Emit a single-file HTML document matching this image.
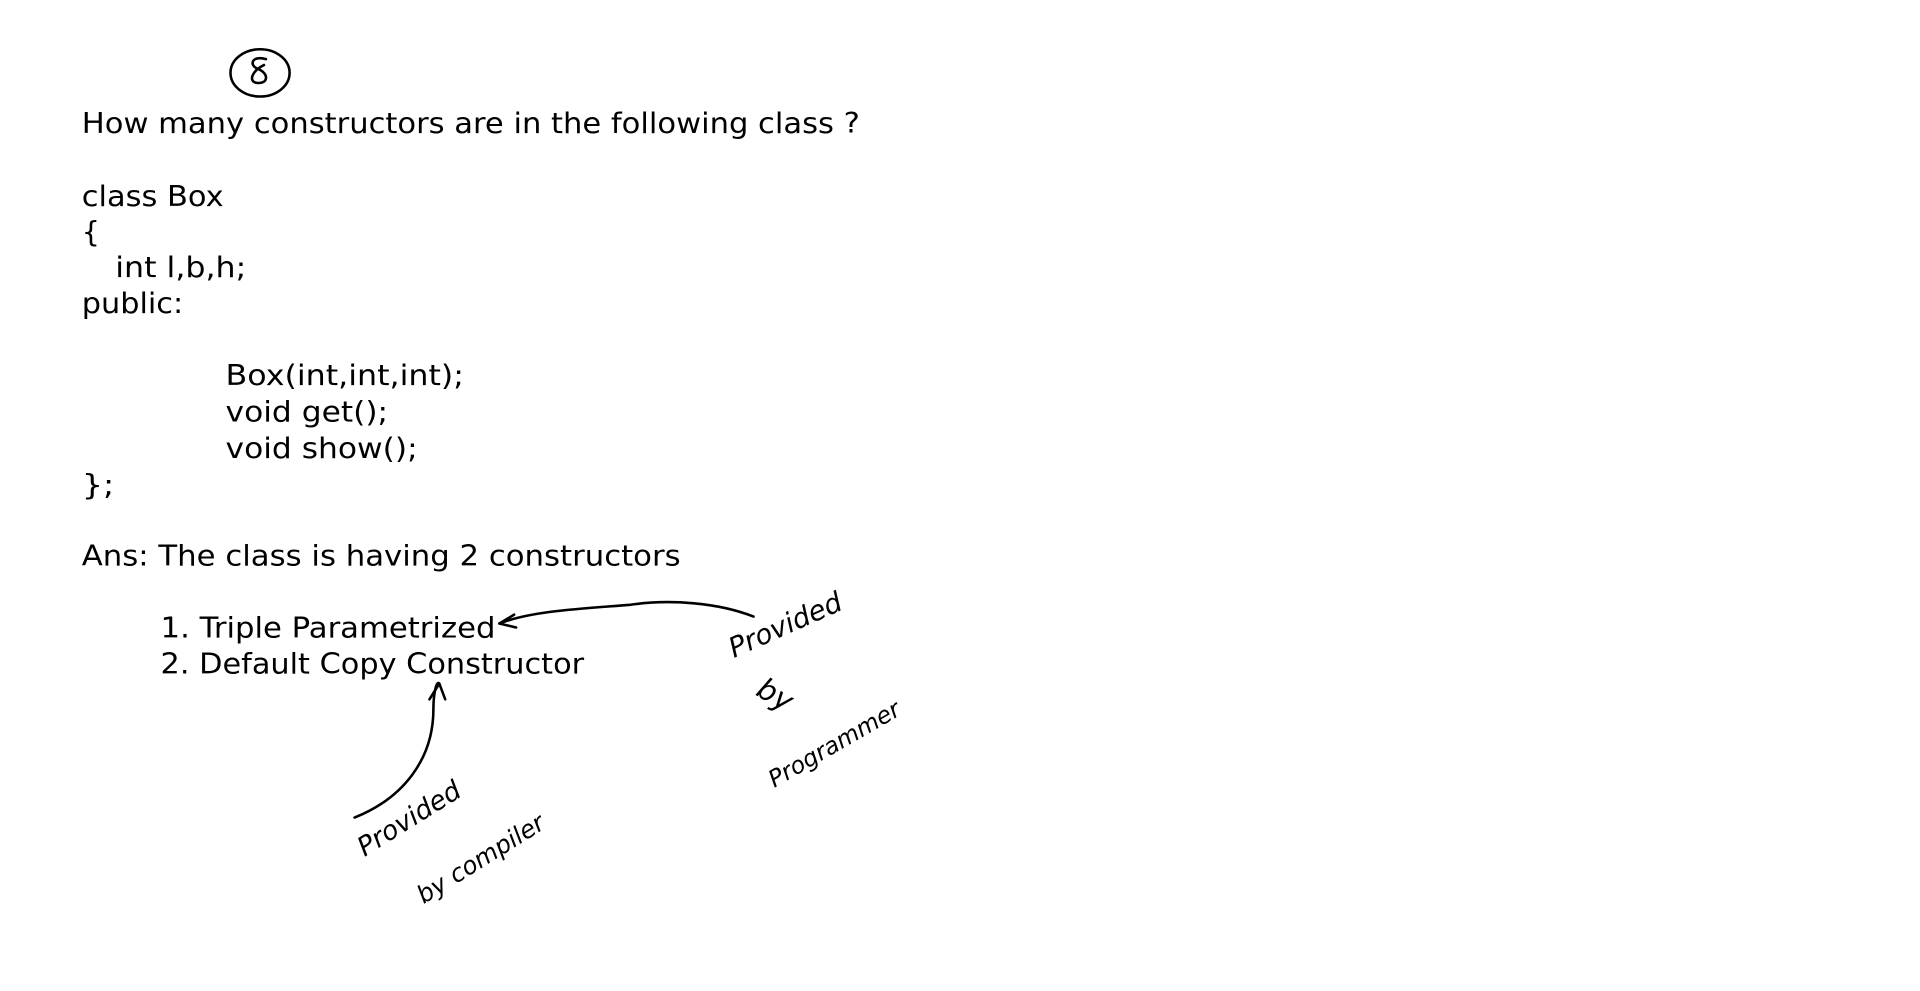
<!DOCTYPE html>
<html><head><meta charset="utf-8"><style>
html,body{margin:0;padding:0;background:#fff;}
svg{display:block}
.t{font-family:"DejaVu Sans","Liberation Sans",sans-serif;font-size:29px;fill:#000}
.h{font-family:"DejaVu Sans","Liberation Sans",sans-serif;font-style:italic;font-weight:200;fill:#000;letter-spacing:0px}
.p{fill:none;stroke:#000;stroke-width:2.6;stroke-linecap:round;stroke-linejoin:round}
</style></head><body>
<svg width="1920" height="991" viewBox="0 0 1920 991" xmlns="http://www.w3.org/2000/svg">
<g transform="scale(0.985)">
<text class="t" x="83" y="135" textLength="790" lengthAdjust="spacingAndGlyphs">How many constructors are in the following class ?</text>
<text class="t" x="83" y="209" textLength="144" lengthAdjust="spacingAndGlyphs">class Box</text>
<text class="t" x="83" y="245">{</text>
<text class="t" x="117" y="281" textLength="133" lengthAdjust="spacingAndGlyphs">int l,b,h;</text>
<text class="t" x="83" y="318" textLength="103" lengthAdjust="spacingAndGlyphs">public:</text>
<text class="t" x="229" y="391" textLength="242" lengthAdjust="spacingAndGlyphs">Box(int,int,int);</text>
<text class="t" x="229" y="428" textLength="165" lengthAdjust="spacingAndGlyphs">void get();</text>
<text class="t" x="229" y="465" textLength="195" lengthAdjust="spacingAndGlyphs">void show();</text>
<text class="t" x="83" y="502" textLength="33" lengthAdjust="spacingAndGlyphs">};</text>
<text class="t" x="83" y="574" textLength="608" lengthAdjust="spacingAndGlyphs">Ans: The class is having 2 constructors</text>
<text class="t" x="163" y="647" textLength="340" lengthAdjust="spacingAndGlyphs">1. Triple Parametrized</text>
<text class="t" x="163" y="684" textLength="430" lengthAdjust="spacingAndGlyphs">2. Default Copy Constructor</text>

<ellipse class="p" cx="264" cy="74" rx="30" ry="24"/>
<path class="p" d="M270 60 C256 56 252 66 262 70 C274 75 272 86 260 84 C252 82 256 72 268 66"/>

<path class="p" d="M765 626 C730 612 680 608 640 614 C590 618 540 620 507 633"/>
<path class="p" d="M522 624 L507 633 L524 637"/>

<path class="p" d="M360 830 C410 810 440 770 440 720 C440 705 443 690 446 694"/>
<path class="p" d="M436 710 L446 694 L452 710"/>

<text class="h" font-size="28" transform="translate(745,668) rotate(-24)">Provided</text>
<text class="h" font-size="30" transform="translate(766,705) rotate(30)">by</text>
<text class="h" font-size="24" transform="translate(786,800) rotate(-30)">Programmer</text>
<text class="h" font-size="27" transform="translate(370,870) rotate(-32)">Provided</text>
<text class="h" font-size="25" transform="translate(430,918) rotate(-32)">by compiler</text>
</g>
</svg>
</body></html>
